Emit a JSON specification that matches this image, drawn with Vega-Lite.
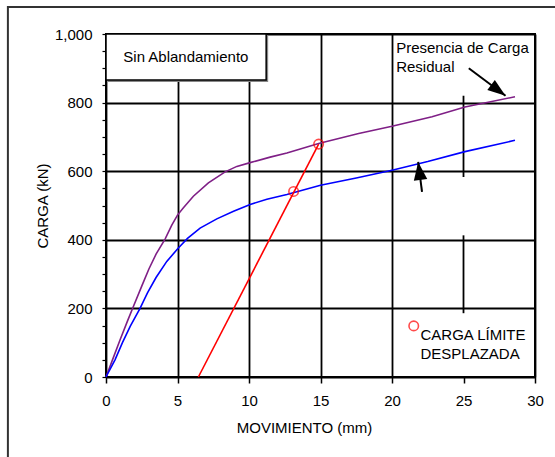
{
  "$schema": "https://vega.github.io/schema/vega-lite/v6.json",
  "width": 429,
  "height": 343,
  "autosize": {"type": "none"},
  "padding": {"left": 106, "top": 34, "right": 20, "bottom": 80},
  "background": "white",
  "config": {
    "font": "Liberation Sans",
    "view": {"stroke": "#000", "strokeWidth": 2}
  },
  "datasets": {
    "page": [{"x": -6.86, "x2": 34, "y": -300, "y2": 1079}],
    "panel": [{"x": 0, "x2": 11.2, "y": 866, "y2": 1000}],
    "panelShade": [{"x": 0.14, "x2": 11.34, "y": 860, "y2": 994}],
    "guide": [
      {"x": 25, "y": 583, "y2": 820},
      {"x": 25, "y": 186, "y2": 413}
    ],
    "curves": [
      {"serie": "Presencia de Carga Residual", "x": 0, "y": 0},
      {"serie": "Presencia de Carga Residual", "x": 0.5, "y": 55},
      {"serie": "Presencia de Carga Residual", "x": 1.0, "y": 110},
      {"serie": "Presencia de Carga Residual", "x": 1.5, "y": 163},
      {"serie": "Presencia de Carga Residual", "x": 1.9, "y": 204},
      {"serie": "Presencia de Carga Residual", "x": 2.5, "y": 265},
      {"serie": "Presencia de Carga Residual", "x": 3.0, "y": 315},
      {"serie": "Presencia de Carga Residual", "x": 3.5, "y": 358},
      {"serie": "Presencia de Carga Residual", "x": 4.13, "y": 402},
      {"serie": "Presencia de Carga Residual", "x": 4.6, "y": 443},
      {"serie": "Presencia de Carga Residual", "x": 5.0, "y": 472},
      {"serie": "Presencia de Carga Residual", "x": 5.4, "y": 493},
      {"serie": "Presencia de Carga Residual", "x": 6.11, "y": 527},
      {"serie": "Presencia de Carga Residual", "x": 7.16, "y": 566},
      {"serie": "Presencia de Carga Residual", "x": 8.33, "y": 598},
      {"serie": "Presencia de Carga Residual", "x": 9.15, "y": 614},
      {"serie": "Presencia de Carga Residual", "x": 10.08, "y": 625},
      {"serie": "Presencia de Carga Residual", "x": 11.48, "y": 641},
      {"serie": "Presencia de Carga Residual", "x": 12.65, "y": 653},
      {"serie": "Presencia de Carga Residual", "x": 14.87, "y": 681},
      {"serie": "Presencia de Carga Residual", "x": 17.67, "y": 710},
      {"serie": "Presencia de Carga Residual", "x": 20, "y": 731},
      {"serie": "Presencia de Carga Residual", "x": 22.8, "y": 759},
      {"serie": "Presencia de Carga Residual", "x": 25.1, "y": 787},
      {"serie": "Presencia de Carga Residual", "x": 28.6, "y": 817},
      {"serie": "Sin Carga Residual", "x": 0, "y": 0},
      {"serie": "Sin Carga Residual", "x": 0.63, "y": 50},
      {"serie": "Sin Carga Residual", "x": 1.15, "y": 100},
      {"serie": "Sin Carga Residual", "x": 1.7, "y": 148},
      {"serie": "Sin Carga Residual", "x": 2.38, "y": 200},
      {"serie": "Sin Carga Residual", "x": 2.9, "y": 245},
      {"serie": "Sin Carga Residual", "x": 3.5, "y": 290},
      {"serie": "Sin Carga Residual", "x": 4.25, "y": 337},
      {"serie": "Sin Carga Residual", "x": 5.06, "y": 376},
      {"serie": "Sin Carga Residual", "x": 5.7, "y": 404},
      {"serie": "Sin Carga Residual", "x": 6.58, "y": 434},
      {"serie": "Sin Carga Residual", "x": 7.75, "y": 461},
      {"serie": "Sin Carga Residual", "x": 8.92, "y": 483},
      {"serie": "Sin Carga Residual", "x": 10.08, "y": 503},
      {"serie": "Sin Carga Residual", "x": 11.25, "y": 518},
      {"serie": "Sin Carga Residual", "x": 12.65, "y": 532},
      {"serie": "Sin Carga Residual", "x": 15, "y": 559},
      {"serie": "Sin Carga Residual", "x": 17.5, "y": 580},
      {"serie": "Sin Carga Residual", "x": 20, "y": 603},
      {"serie": "Sin Carga Residual", "x": 22.5, "y": 628},
      {"serie": "Sin Carga Residual", "x": 25.1, "y": 657},
      {"serie": "Sin Carga Residual", "x": 28.6, "y": 690},
      {"serie": "Carga Límite Desplazada", "x": 6.46, "y": 0},
      {"serie": "Carga Límite Desplazada", "x": 14.87, "y": 679}
    ],
    "limits": [
      {"x": 13.12, "y": 541},
      {"x": 14.87, "y": 679},
      {"x": 21.52, "y": 149}
    ],
    "notes": [
      {"x": 1.21, "y": 919, "label": "Sin Ablandamiento"},
      {"x": 20.29, "y": 945, "label": "Presencia de Carga\nResidual"},
      {"x": 21.99, "y": 107, "label": "CARGA LÍMITE\nDESPLAZADA"}
    ],
    "arrows": [
      {"name": "residual", "x": 25.37, "y": 900, "x2": 27.94, "y2": 820},
      {"name": "base", "x": 22.1, "y": 540, "x2": 21.83, "y2": 627}
    ]
  },
  "encoding": {
    "x": {
      "field": "x",
      "type": "quantitative",
      "scale": {"domain": [0, 30], "nice": false, "zero": false},
      "axis": {
        "title": "MOVIMIENTO (mm)",
        "values": [0, 5, 10, 15, 20, 25, 30],
        "format": "d",
        "domain": false,
        "grid": true,
        "gridColor": "#000",
        "gridWidth": 1.8,
        "gridOpacity": {"condition": {"test": "datum.value === 25", "value": 0}, "value": 1},
        "ticks": true,
        "tickSize": 6,
        "tickColor": "#000",
        "tickWidth": 1.5,
        "labelFont": "Liberation Sans",
        "labelFontSize": 15,
        "labelColor": "#000",
        "labelPadding": 10,
        "labelFlush": false,
        "labelOverlap": false,
        "titleFont": "Liberation Sans",
        "titleFontSize": 15,
        "titleFontWeight": "normal",
        "titleColor": "#000",
        "titlePadding": 12,
        "titleX": 198
      }
    },
    "y": {
      "field": "y",
      "type": "quantitative",
      "scale": {"domain": [0, 1000], "nice": false, "zero": false},
      "axis": {
        "title": "CARGA (kN)",
        "values": [0, 50, 100, 150, 200, 250, 300, 350, 400, 450, 500, 550, 600, 650, 700, 750, 800, 850, 900, 950, 1000],
        "labelExpr": "datum.value % 200 === 0 ? format(datum.value, ',') : ''",
        "domain": false,
        "grid": true,
        "gridColor": "#000",
        "gridWidth": 1.8,
        "gridOpacity": {"condition": {"test": "datum.value % 200 !== 0", "value": 0}, "value": 1},
        "ticks": true,
        "tickSize": 4,
        "tickColor": "#000",
        "tickWidth": 1.2,
        "labelFont": "Liberation Sans",
        "labelFontSize": 15,
        "labelColor": "#000",
        "labelPadding": 10,
        "labelOverlap": false,
        "titleFont": "Liberation Sans",
        "titleFontSize": 15,
        "titleFontWeight": "normal",
        "titleColor": "#000",
        "titlePadding": 4
      }
    }
  },
  "layer": [
    {
      "data": {"name": "page"},
      "mark": {"type": "rect", "fill": null, "stroke": "#333", "strokeWidth": 2, "clip": false},
      "encoding": {"x2": {"field": "x2"}, "y2": {"field": "y2"}}
    },
    {
      "data": {"name": "guide"},
      "mark": {"type": "rule", "color": "#000", "strokeWidth": 1.8},
      "encoding": {"y2": {"field": "y2"}}
    },
    {
      "data": {"name": "panelShade"},
      "mark": {"type": "rect", "fill": "#888", "stroke": null},
      "encoding": {"x2": {"field": "x2"}, "y2": {"field": "y2"}}
    },
    {
      "data": {"name": "panel"},
      "mark": {"type": "rect", "fill": "#fff", "stroke": "#000", "strokeWidth": 1.5},
      "encoding": {"x2": {"field": "x2"}, "y2": {"field": "y2"}}
    },
    {
      "data": {"name": "curves"},
      "mark": {"type": "line", "strokeWidth": 1.6},
      "encoding": {
        "color": {
          "field": "serie",
          "type": "nominal",
          "scale": {
            "domain": ["Presencia de Carga Residual", "Sin Carga Residual", "Carga Límite Desplazada"],
            "range": ["#7f1f86", "#0000ff", "#ff0000"]
          },
          "legend": null
        }
      }
    },
    {
      "data": {"name": "limits"},
      "mark": {"type": "point", "shape": "circle", "filled": false, "stroke": "#ff0000", "strokeWidth": 1.6, "size": 90}
    },
    {
      "data": {"name": "arrows"},
      "mark": {"type": "rule", "color": "#000", "strokeWidth": 2},
      "encoding": {"x2": {"field": "x2"}, "y2": {"field": "y2"}}
    },
    {
      "data": {"name": "arrows"},
      "transform": [{"filter": "datum.name === 'residual'"}],
      "mark": {"type": "point", "shape": "M0,0L0.7,2L-0.7,2Z", "filled": true, "color": "#000", "opacity": 1, "size": 324, "angle": 126.5},
      "encoding": {"x": {"field": "x2", "type": "quantitative"}, "y": {"field": "y2", "type": "quantitative"}}
    },
    {
      "data": {"name": "arrows"},
      "transform": [{"filter": "datum.name === 'base'"}],
      "mark": {"type": "point", "shape": "M0,0L0.75,2L-0.75,2Z", "filled": true, "color": "#000", "opacity": 1, "size": 324, "angle": 352.4},
      "encoding": {"x": {"field": "x2", "type": "quantitative"}, "y": {"field": "y2", "type": "quantitative"}}
    },
    {
      "data": {"name": "notes"},
      "mark": {"type": "text", "align": "left", "baseline": "alphabetic", "font": "Liberation Sans", "fontSize": 15, "color": "#000", "lineBreak": "\n", "lineHeight": 19},
      "encoding": {"text": {"field": "label"}}
    }
  ]
}
